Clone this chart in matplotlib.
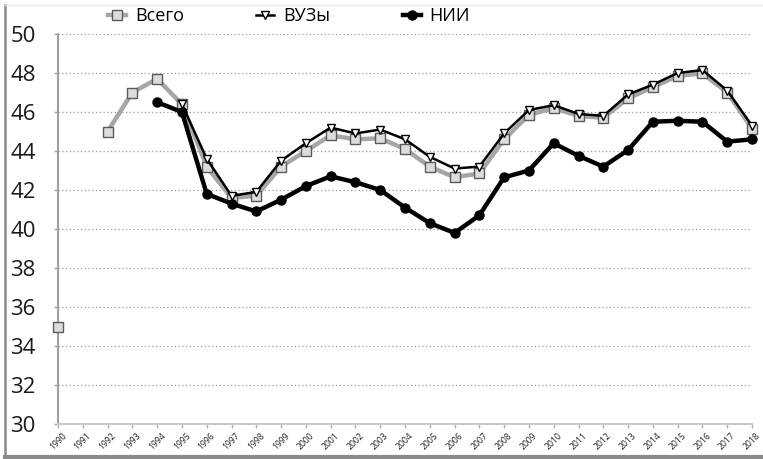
import numpy as np
import matplotlib
matplotlib.use('Agg')
import matplotlib.pyplot as plt
from matplotlib.lines import Line2D

plt.rcParams['font.family'] = ['Open Sans', 'DejaVu Sans']

years = np.arange(1990, 2019)
# nan = no value for that year
vsego = [35.0, np.nan, 45.0, 47.0, 47.7, 46.4, 43.2, 41.6, 41.7, 43.2,
         44.0, 44.8, 44.6, 44.65, 44.1, 43.2, 42.65, 42.85, 44.6, 45.85,
         46.2, 45.8, 45.7, 46.7, 47.27, 47.85, 47.98, 47.0, 45.15]
vuzy = [np.nan, np.nan, np.nan, np.nan, np.nan, 46.4, 43.6, 41.7, 41.9, 43.5,
        44.4, 45.2, 44.9, 45.1, 44.6, 43.7, 43.1, 43.2, 44.9, 46.1,
        46.35, 45.9, 45.8, 46.9, 47.4, 48.0, 48.15, 47.1, 45.3]
nii = [np.nan, np.nan, np.nan, np.nan, 46.5, 46.0, 41.8, 41.3, 40.9, 41.5,
       42.2, 42.7, 42.4, 42.0, 41.1, 40.3, 39.8, 40.7, 42.65, 43.0,
       44.4, 43.75, 43.2, 44.05, 45.5, 45.55, 45.5, 44.48, 44.6]
labels = ['Всего', 'ВУЗы', 'НИИ']

fig = plt.figure(figsize=(7.63, 4.59), dpi=100)
ax = fig.add_axes([58/763, 35/459, (752-58)/763, (424-34)/459])

ax.plot(years, vsego, color='#a6a6a6', lw=3.2, marker='s', ms=7,
        mfc='#dcdcdc', mec='#5a5a5a', mew=1.0, label=labels[0], zorder=3,
        clip_on=False)
ax.plot(years, vuzy, color='black', lw=1.8, marker='v', ms=6,
        mfc='white', mec='black', mew=1.0, label=labels[1], zorder=4,
        clip_on=False)
ax.plot(years, nii, color='black', lw=3.2, marker='o', ms=6.5,
        mfc='black', mec='black', label=labels[2], zorder=5, clip_on=False)

ax.set_xlim(1990, 2018)
ax.set_ylim(30, 50)
ax.set_yticks(np.arange(30, 51, 2))
ax.set_xticks(years)
ax.set_xticklabels([str(y) for y in years], rotation=45, fontsize=6.2,
                   ha='center', color='#222222')
ax.tick_params(axis='y', labelsize=16, length=3, width=1, color='#a0a0a0',
               pad=13, labelcolor='#1a1a1a')
ax.tick_params(axis='x', length=3, width=1, color='#b0b0b0', pad=2)
ax.yaxis.grid(True, linestyle=(0, (1, 2)), color='#9a9a9a', lw=0.9)
ax.set_axisbelow(True)
for s in ['top', 'right']:
    ax.spines[s].set_visible(False)
ax.spines['left'].set_color('#a0a0a0')
ax.spines['left'].set_linewidth(1.5)
ax.spines['bottom'].set_color('#c8c8c8')
ax.spines['bottom'].set_linewidth(1.5)

h, l = ax.get_legend_handles_labels()
fig.legend(h, l, loc='center', bbox_to_anchor=(289/763, 1 - 16/459), ncol=3,
           frameon=False, fontsize=13, handlelength=1.0, handletextpad=0.5,
           columnspacing=4.0)

# outer frame
fig.add_artist(Line2D([5/763, 5/763], [2/459, 1 - 5/459], color='#8a8a8a', lw=1.8,
                      transform=fig.transFigure))
fig.add_artist(Line2D([5/763, 1], [2/459, 2/459], color='#8a8a8a', lw=3,
                      transform=fig.transFigure))
fig.add_artist(Line2D([5/763, 1], [1 - 5/459, 1 - 5/459], color='#e6e6e6', lw=1,
                      transform=fig.transFigure))

fig.savefig('out.png', dpi=100)
